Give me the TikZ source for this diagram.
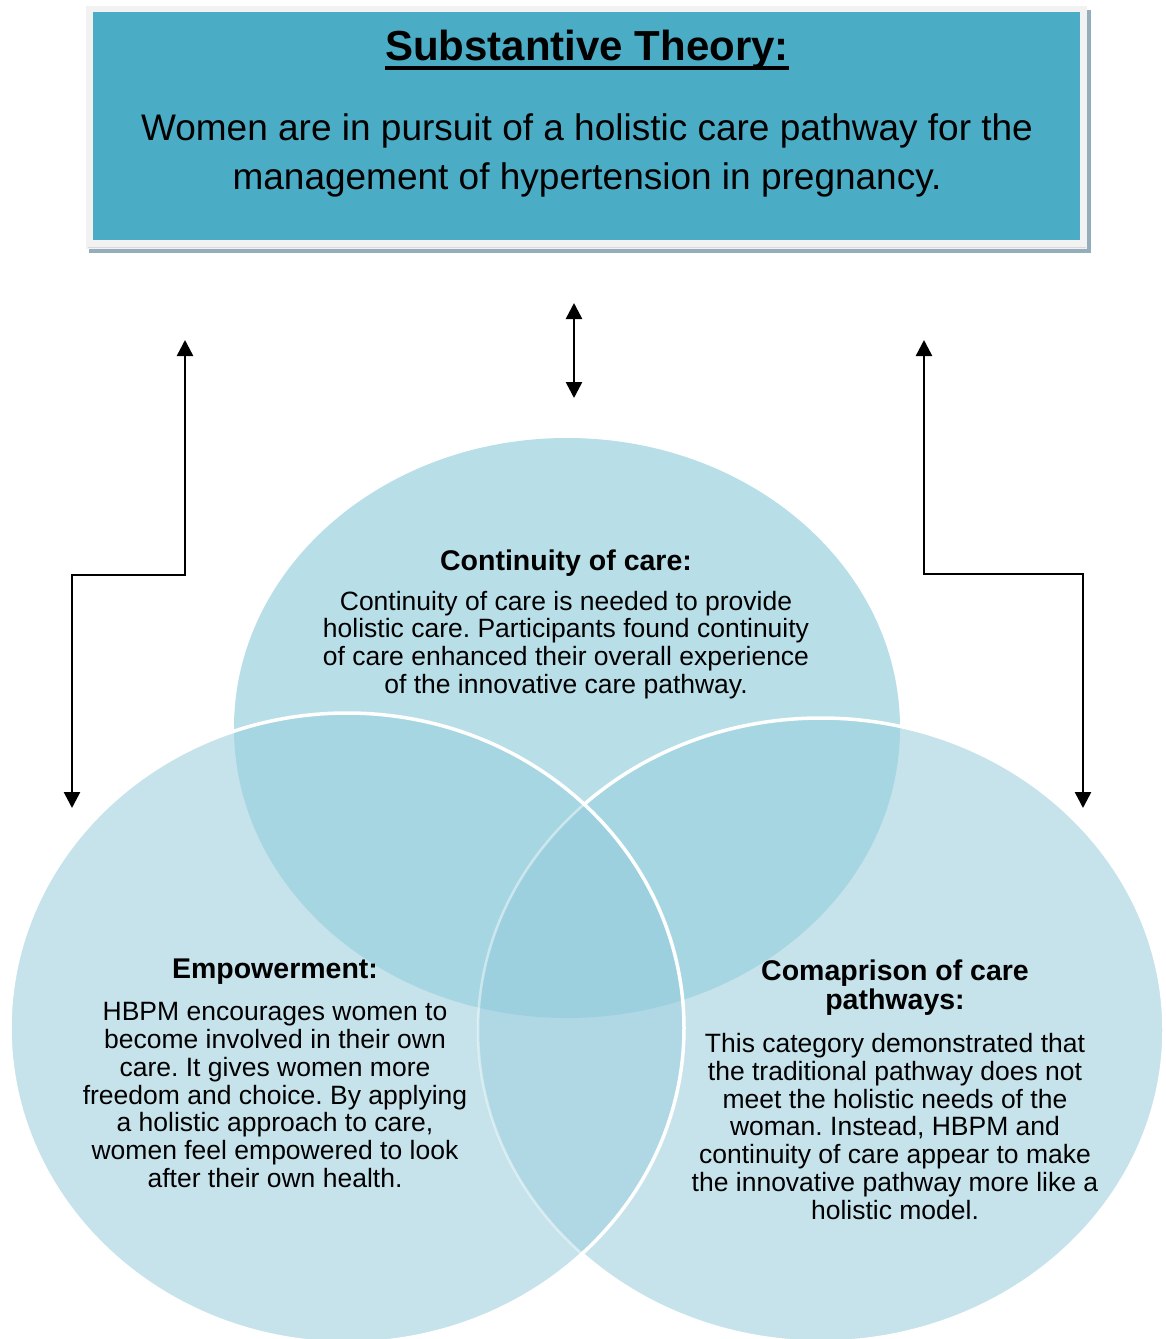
\documentclass[tikz,border=0pt]{standalone}
\usepackage{fontspec}
\setmainfont{Liberation Sans}
\frenchspacing
\usetikzlibrary{arrows.meta}
\definecolor{tealbox}{HTML}{4BACC6}
\definecolor{framec}{HTML}{F2F2F2}
\definecolor{shadowc}{HTML}{93AEBA}
\definecolor{topC}{HTML}{B8DEE8}
\definecolor{sideC}{HTML}{C6E3EC}
\definecolor{twoC}{HTML}{A7D6E3}
\definecolor{lrC}{HTML}{B0D8E4}
\definecolor{triC}{HTML}{9DD0DF}
\tikzset{
  conn/.style={line width=2.5pt, line join=miter, -{Triangle[width=16pt,length=16pt]}},
  dblconn/.style={line width=2.5pt, line join=miter, {Triangle[width=16pt,length=16pt]}-{Triangle[width=16pt,length=16pt]}},
  headtxt/.style={font=\bfseries\fontsize{28.5}{29}\selectfont, align=center, inner sep=0pt},
  bodytxt/.style={font=\fontsize{26.5}{27.8}\selectfont, align=center, inner sep=0pt},
}
\def\topE{(567,728) ellipse [x radius=333pt, y radius=290pt]}
\def\leftE{(347,1028) ellipse [x radius=337pt, y radius=315pt]}
\def\rightE{(821,1030) ellipse [x radius=343pt, y radius=312pt]}
\begin{document}
\begin{tikzpicture}[x=1pt,y=-1pt]
\useasboundingbox (0,0) rectangle (1165,1339);
\clip (0,0) rectangle (1165,1339);
\fill[white] (0,0) rectangle (1165,1339);
% ---- top box ----
\fill[shadowc] (89,10) rectangle (1091,253);
\fill[framec] (86,6) rectangle (1087,249);
\draw[white!85!black, line width=0.6pt] (88,247) -- (1086,247);
\fill[tealbox] (93,12) rectangle (1080,240);
\node[font=\bfseries\fontsize{42}{48}\selectfont, inner sep=0pt] (title) at (587,50) {Substantive Theory:};
\draw[line width=4pt] ([yshift=-7pt]title.base west) -- ([yshift=-7pt]title.base east);
\node[font=\fontsize{37}{49}\selectfont, align=center, inner sep=0pt] (theory) at (587,155)
  {Women are in pursuit of a holistic care pathway for the\\management of hypertension in pregnancy.};
% ---- ellipses ----
\fill[topC] \topE;
\fill[sideC] \rightE;
\begin{scope}\clip \topE; \fill[twoC] \rightE; \end{scope}
\draw[white, line width=3.5pt] \rightE;
\fill[sideC] \leftE;
\begin{scope}
  \clip \leftE;
  \fill[twoC] \topE;
  \fill[lrC] \rightE;
  \clip \topE;
  \fill[triC] \rightE;
\end{scope}
\begin{scope}
  \clip \leftE;
  \draw[white, opacity=0.45, line width=2.5pt] \rightE;
\end{scope}
\draw[white, line width=3.5pt] \leftE;
% ---- texts ----
\node[headtxt] (conth) at (566,563) {Continuity of care:};
\node[bodytxt] (contb) at (566,645) {Continuity of care is needed to provide\\holistic care. Participants found continuity\\of care enhanced their overall experience\\of the innovative care pathway.};
\node[headtxt] (empch) at (275,972) {Empowerment:};
\node[bodytxt] (empb) at (275,1095) {HBPM encourages women to\\become involved in their own\\care. It gives women more\\freedom and choice. By applying\\a holistic approach to care,\\women feel empowered to look\\after their own health.};
\node[headtxt] (comph) at (895,987.5) {Comaprison of care\\pathways:};
\node[bodytxt] (compb) at (895,1126.5) {This category demonstrated that\\the traditional pathway does not\\meet the holistic needs of the\\woman. Instead, HBPM and\\continuity of care appear to make\\the innovative pathway more like a\\holistic model.};
% ---- connectors ----
\coordinate (ca) at (574,303);
\coordinate (cb) at (574,398);
\draw[dblconn] (ca) -- (cb);
\coordinate (la) at (185,340);
\coordinate (lb) at (185,575);
\coordinate (lc) at (72,575);
\coordinate (ld) at (72,808);
\draw[dblconn] (la) -- (lb) -- (lc) -- (ld);
\coordinate (ra) at (924,340);
\coordinate (rb) at (924,574);
\coordinate (rc) at (1083,574);
\coordinate (rd) at (1083,808);
\draw[dblconn] (ra) -- (rb) -- (rc) -- (rd);
\end{tikzpicture}
\end{document}
